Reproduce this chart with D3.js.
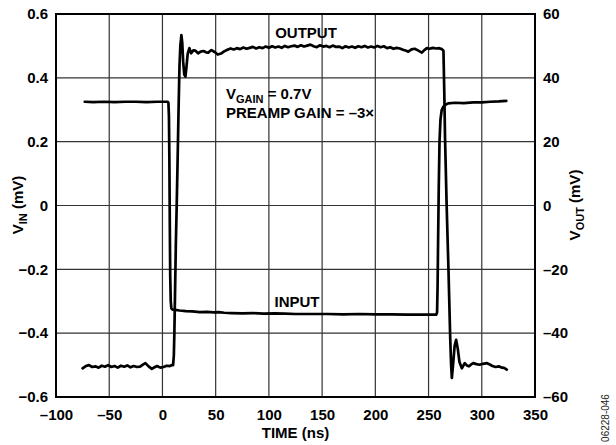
<!DOCTYPE html>
<html><head><meta charset="utf-8">
<script src="https://cdn.jsdelivr.net/npm/d3@7"></script>
<style>
html,body{margin:0;padding:0;background:#fff;}
text{font-family:Arial,"Liberation Sans",Helvetica,sans-serif;}
</style></head>
<body><svg id="c" width="616" height="445"></svg>
<script>
// ---- data ----
const xTicks = [-100,-50,0,50,100,150,200,250,300,350];
const yLeftTicks = [-0.6,-0.4,-0.2,0,0.2,0.4,0.6];
const yRightTicks = [-60,-40,-20,0,20,40,60];

// input trace: [time ns, V_IN mV] (left axis)
const inputTrace = [
[-73,0.325],[-65,0.324],[-55,0.325],[-45,0.324],[-35,0.325],[-25,0.325],[-15,0.324],[-5,0.325],[5,0.325],
[5.6,0.322],[6.1,0.28],[6.5,0.15],[6.9,-0.05],[7.3,-0.22],[7.8,-0.3],[8.4,-0.322],[9.5,-0.326],[12,-0.327],
[16,-0.329],[22,-0.331],[28,-0.332],[35,-0.334],[42,-0.333],[48,-0.335],[53,-0.334],[58,-0.336],[65,-0.337],
[75,-0.338],[85,-0.337],[95,-0.339],[105,-0.338],[115,-0.339],[125,-0.34],[140,-0.34],[155,-0.34],[170,-0.341],
[185,-0.34],[200,-0.341],[215,-0.341],[230,-0.342],[245,-0.342],[257.3,-0.342],[258,-0.335],[258.5,-0.25],
[259,-0.1],[259.6,0.06],[260.3,0.2],[261.2,0.27],[262.3,0.298],[263.6,0.308],[265.5,0.315],[268.4,0.32],
[275,0.322],[283,0.321],[292,0.323],[300,0.323],[308,0.325],[316,0.326],[323,0.328]
];

// output trace: [time ns, V_OUT mV] (right axis)
const outputTrace = [
[-75,-51],[-72,-50.3],[-69,-50],[-66,-50.6],[-63,-50.4],[-60,-50.8],[-57,-50.2],[-54,-50.5],[-51,-50],
[-48,-50.6],[-45,-50.3],[-42,-50.8],[-39,-50.2],[-36,-50.5],[-33,-50.1],[-30,-50.7],[-27,-50.3],[-24,-50.6],
[-21,-50.5],[-18,-49.8],[-16,-49.4],[-13,-50.4],[-10,-51.2],[-7,-50.6],[-5,-50.3],[-2,-50.8],[1,-50.6],
[4,-50.2],[7,-50.3],[9,-50],[10,-50],[10.7,-47],[11.2,-40],[11.8,-28],[12.6,-12],[13.4,0],[14.3,15],
[15.2,31],[16,43.5],[16.8,50],[17.8,53.4],[18.6,51],[19.5,45],[20.5,41],[21.6,40.4],[22.6,43.5],[23.7,47.5],
[25.3,49.3],[27,47.7],[29,48.6],[31,48.5],[33.5,47.7],[36,48.2],[38.5,48.4],[41,48],[43,47.9],[46,48.7],
[49,48.1],[52,47.3],[55,47.6],[58,48.3],[61,48.8],[64,49.2],[67,48.9],[70,49.3],[73,49],[76,49.5],[79,49.1],
[82,49.4],[85,49.7],[88,49.2],[91,49.6],[94,49.3],[97,49.8],[100,49.4],[103,49.9],[106,49.5],[109,49.8],
[112,49.4],[115,50],[118,49.6],[121,49.9],[124,50.1],[127,49.7],[130,50.2],[133,49.8],[136,50.1],[139,50.4],
[142,49.9],[145,49.6],[148,50.2],[151,49.8],[154,50],[157,49.6],[160,50.1],[163,49.7],[166,49.8],[169,49.3],
[172,49.9],[175,49.5],[178,49.8],[181,49.4],[184,49.9],[187,49.6],[190,50],[193,49.5],[196,49.8],[199,49.5],
[202,50],[205,49.6],[208,49.9],[211,49.3],[214,49.6],[217,49.1],[220,49.4],[223,49.2],[226,48.8],[229,48.5],
[231,48.2],[234,48.9],[237,49.1],[240,48.6],[243.7,47.9],[246,48.7],[248.4,49.3],[251,49.1],[254,49.4],
[257,49.2],[260,49.3],[262.5,49],[264,48.5],[264.8,35],[265.5,21],[267,0],[268.7,-20],[270.3,-41],
[271.2,-50],[271.9,-54],[273,-50],[274.5,-44],[275.9,-42.1],[277.5,-45],[279,-49],[281.3,-51],[284,-49.4],
[286,-50.1],[288,-50.4],[290,-49.8],[292,-49.4],[295,-49.7],[298,-49.9],[301,-49.6],[305,-49.4],[308,-49.9],
[310,-50.3],[313,-50.6],[316,-50.4],[319,-50.8],[321,-50.9],[323.5,-51.4]
];

// ---- layout ----
const L=56, R=535, T=14, B=397;
const svg = d3.select("#c");
const x = d3.scaleLinear().domain([-100,350]).range([L,R]);
const yL = d3.scaleLinear().domain([-0.6,0.6]).range([B,T]);
const yR = d3.scaleLinear().domain([-60,60]).range([B,T]);
const dash = s => String(s).replace("-", "\u2013");

// gridlines
const g = svg.append("g");
g.selectAll("line.vx").data(xTicks.slice(1,-1)).join("line")
  .attr("x1",d=>x(d)).attr("x2",d=>x(d)).attr("y1",T).attr("y2",B)
  .attr("stroke","#333").attr("stroke-width",1.2);
g.selectAll("line.hy").data(yLeftTicks.slice(1,-1)).join("line")
  .attr("y1",d=>yL(d)).attr("y2",d=>yL(d)).attr("x1",L).attr("x2",R)
  .attr("stroke","#333").attr("stroke-width",1.2);

// traces
const lineL = d3.line().x(d=>x(d[0])).y(d=>yL(d[1]));
const lineR = d3.line().x(d=>x(d[0])).y(d=>yR(d[1]));
svg.append("path").attr("d",lineL(inputTrace)).attr("fill","none").attr("stroke","#000")
  .attr("stroke-width",2.7).attr("stroke-linejoin","round").attr("stroke-linecap","round");
svg.append("path").attr("d",lineR(outputTrace)).attr("fill","none").attr("stroke","#000")
  .attr("stroke-width",2.7).attr("stroke-linejoin","round").attr("stroke-linecap","round");

// frame
svg.append("rect").attr("x",L).attr("y",T).attr("width",R-L).attr("height",B-T)
  .attr("fill","none").attr("stroke","#000").attr("stroke-width",2);

// axes
const fmtL = d => d===0 ? "0" : dash(d3.format(".1f")(d));
const axL = d3.axisLeft(yL).tickValues(yLeftTicks).tickSize(0).tickPadding(8).tickFormat(fmtL);
const axR = d3.axisRight(yR).tickValues(yRightTicks).tickSize(0).tickPadding(8).tickFormat(d=>dash(d));
const axB = d3.axisBottom(x).tickValues(xTicks).tickSize(0).tickPadding(12).tickFormat(d=>dash(d));
[[axL,`translate(${L},0)`],[axR,`translate(${R},0)`],[axB,`translate(0,${B})`]].forEach(([a,t])=>{
  const s = svg.append("g").attr("transform",t).call(a);
  s.select(".domain").remove();
  s.selectAll("text").attr("font-size",15).attr("font-weight","bold").attr("fill","#000")
    .attr("font-family","Arial, 'Liberation Sans', sans-serif");
});

// axis titles
const bold = sel => sel.attr("font-weight","bold").attr("fill","#000");
bold(svg.append("text").attr("x",(L+R)/2).attr("y",438).attr("text-anchor","middle").attr("font-size",15).text("TIME (ns)"));

const tl = bold(svg.append("text").attr("transform","translate(23,205) rotate(-90)").attr("text-anchor","middle").attr("font-size",15));
tl.append("tspan").text("V");
tl.append("tspan").attr("font-size",11).attr("dy",4).text("IN");
tl.append("tspan").attr("dy",-4).text(" (mV)");

const tr = bold(svg.append("text").attr("transform","translate(580,205) rotate(-90)").attr("text-anchor","middle").attr("font-size",15));
tr.append("tspan").text("V");
tr.append("tspan").attr("font-size",11).attr("dy",4).text("OUT");
tr.append("tspan").attr("dy",-4).text(" (mV)");

// annotations
bold(svg.append("text").attr("x",306).attr("y",38).attr("text-anchor","middle").attr("font-size",15).text("OUTPUT"));
bold(svg.append("text").attr("x",297).attr("y",307).attr("text-anchor","middle").attr("font-size",15).text("INPUT"));
const a1 = bold(svg.append("text").attr("x",226).attr("y",99).attr("font-size",15));
a1.append("tspan").text("V");
a1.append("tspan").attr("font-size",11).attr("dy",4).text("GAIN");
a1.append("tspan").attr("dy",-4).text(" = 0.7V");
bold(svg.append("text").attr("x",226).attr("y",118).attr("font-size",15).text("PREAMP GAIN = \u20133\u00d7"));

// figure code
svg.append("text").attr("transform","translate(609,418) rotate(-90)").attr("text-anchor","middle")
  .attr("font-size",10).attr("fill","#222").text("06228-046");
</script></body></html>
